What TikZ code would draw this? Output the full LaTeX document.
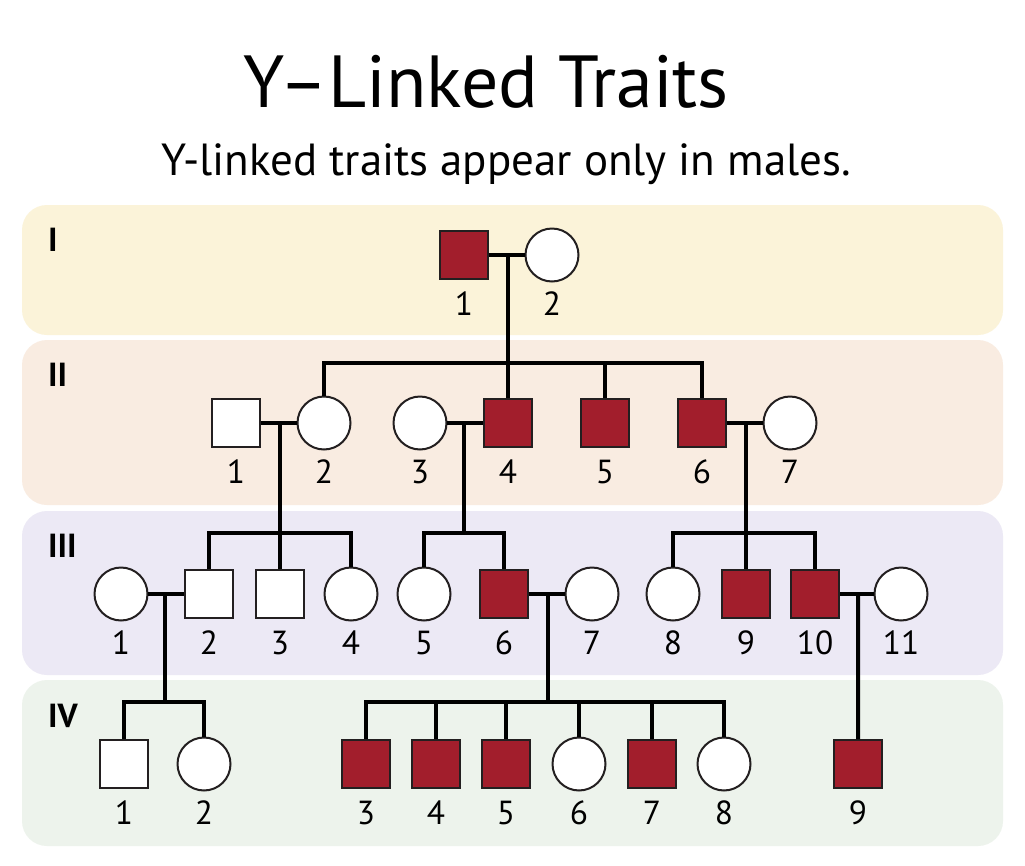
\documentclass[tikz,border=0pt]{standalone}
\usepackage{fontspec}
\setmainfont{PT Sans}
\usepackage{xcolor}
\usepackage{tikz}
\usetikzlibrary{calc}

\definecolor{traitred}{HTML}{A21E2C}
\definecolor{bandone}{HTML}{FBF3D9}
\definecolor{bandtwo}{HTML}{F9ECE1}
\definecolor{bandthree}{HTML}{ECE9F5}
\definecolor{bandfour}{HTML}{EDF3EC}
\definecolor{edge}{HTML}{231F20}

\begin{document}
\begin{tikzpicture}[
    x=0.02cm, y=-0.02cm,
    band/.style={rounded corners=0.5cm, draw=none},
    gen/.style={anchor=west, font=\fontsize{19}{21}\selectfont\bfseries},
    num/.style={inner sep=0pt, font=\fontsize{19}{21}\selectfont},
    male/.style={rectangle, draw=edge, line width=0.04cm, fill=white, minimum size=0.96cm, inner sep=0pt,
      label={[num, label distance=0.235cm]below:#1}},
    female/.style={circle, draw=edge, line width=0.04cm, fill=white, minimum size=1.06cm, inner sep=0pt,
      label={[num, label distance=0.185cm]below:#1}},
    affected/.style={fill=traitred},
    link/.style={line width=0.08cm, black}
  ]
    \useasboundingbox (0,0) rectangle (1025,866);
    \fill[white] (0,0) rectangle (1025,866);

    % title
    \node[anchor=base, font=\fontsize{42}{46}\selectfont] (title) at (486,107) {Y–Linked Traits};
    \node[anchor=base, font=\fontsize{25.6}{29}\selectfont] (subtitle) at (506,175) {Y-linked traits appear only in males.};

    % generation bands
    \fill[band, bandone] (22,205) rectangle (1003,335);
    \fill[band, bandtwo] (22,340) rectangle (1003,505);
    \fill[band, bandthree] (22,511) rectangle (1003,675);
    \fill[band, bandfour] (22,680) rectangle (1003,846);
    \node[gen] (gI) at (42,240) {I};
    \node[gen] (gII) at (42,375) {II};
    \node[gen] (gIII) at (42,546) {III};
    \node[gen] (gIV) at (42,716) {IV};

    % generation I
    \node[male=1, affected] (i1) at (464,255) {};
    \node[female=2] (i2) at (552,255) {};

    % generation II
    \node[male=1] (ii1) at (236,423) {};
    \node[female=2] (ii2) at (324,423) {};
    \node[female=3] (ii3) at (420,423) {};
    \node[male=4, affected] (ii4) at (508,423) {};
    \node[male=5, affected] (ii5) at (605,423) {};
    \node[male=6, affected] (ii6) at (702,423) {};
    \node[female=7] (ii7) at (790,423) {};

    % generation III
    \node[female=1] (iii1) at (121,594) {};
    \node[male=2] (iii2) at (209,594) {};
    \node[male=3] (iii3) at (280,594) {};
    \node[female=4] (iii4) at (351,594) {};
    \node[female=5] (iii5) at (424,594) {};
    \node[male=6, affected] (iii6) at (504,594) {};
    \node[female=7] (iii7) at (592,594) {};
    \node[female=8] (iii8) at (673,594) {};
    \node[male=9, affected] (iii9) at (746,594) {};
    \node[male=10, affected] (iii10) at (815,594) {};
    \node[female=11] (iii11) at (901,594) {};

    % generation IV
    \node[male=1] (iv1) at (124,764) {};
    \node[female=2] (iv2) at (204,764) {};
    \node[male=3, affected] (iv3) at (366,764) {};
    \node[male=4, affected] (iv4) at (436,764) {};
    \node[male=5, affected] (iv5) at (506,764) {};
    \node[female=6] (iv6) at (579,764) {};
    \node[male=7, affected] (iv7) at (652,764) {};
    \node[female=8] (iv8) at (724,764) {};
    \node[male=9, affected] (iv9) at (858,764) {};

    % sibship heights
    \coordinate (rowII) at (0,363);
    \coordinate (rowIII) at (0,533);
    \coordinate (rowIV) at (0,702);

    % matings
    \coordinate (m1) at ($(i1)!0.5!(i2)$);
    \coordinate (m2) at ($(ii1)!0.5!(ii2)$);
    \coordinate (m3) at ($(ii3)!0.5!(ii4)$);
    \coordinate (m4) at ($(ii6)!0.5!(ii7)$);
    \coordinate (m5) at ($(iii1)!0.5!(iii2)$);
    \coordinate (m6) at ($(iii6)!0.5!(iii7)$);
    \coordinate (m7) at ($(iii10)!0.5!(iii11)$);
    \coordinate (s1) at (m1 |- rowII);
    \coordinate (s2) at (m2 |- rowIII);
    \coordinate (s3) at (m3 |- rowIII);
    \coordinate (s4) at (m4 |- rowIII);
    \coordinate (s5) at (m5 |- rowIV);
    \coordinate (s6) at (m6 |- rowIV);

    \draw[link] (i1) -- (i2);
    \draw[link] (ii1) -- (ii2);
    \draw[link] (ii3) -- (ii4);
    \draw[link] (ii6) -- (ii7);
    \draw[link] (iii1) -- (iii2);
    \draw[link] (iii6) -- (iii7);
    \draw[link] (iii10) -- (iii11);

    % descents
    \draw[link] (m1) -- (ii4);
    \draw[link] (ii2.north) |- (s1) -| (ii6.north);
    \draw[link] (ii5.north) -- (ii5.north |- s1);
    \draw[link] (m2) -- (iii3);
    \draw[link] (iii2.north) |- (s2) -| (iii4.north);
    \draw[link] (m3) -- (s3);
    \draw[link] (iii5.north) |- (s3) -| (iii6.north);
    \draw[link] (m4) -- (iii9);
    \draw[link] (iii8.north) |- (s4) -| (iii10.north);
    \draw[link] (m5) -- (s5);
    \draw[link] (iv1.north) |- (s5) -| (iv2.north);
    \draw[link] (m6) -- (s6);
    \draw[link] (iv3.north) |- (s6) -| (iv8.north);
    \draw[link] (iv4.north) -- (iv4.north |- s6);
    \draw[link] (iv5.north) -- (iv5.north |- s6);
    \draw[link] (iv6.north) -- (iv6.north |- s6);
    \draw[link] (iv7.north) -- (iv7.north |- s6);
    \draw[link] (m7) -- (iv9);
\end{tikzpicture}
\end{document}
